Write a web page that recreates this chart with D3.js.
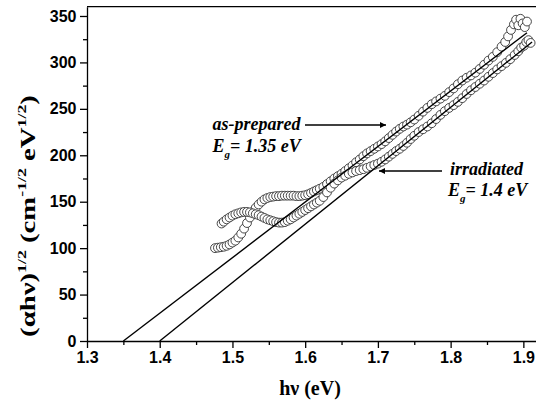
<!DOCTYPE html>
<html><head><meta charset="utf-8">
<script src="https://cdn.jsdelivr.net/npm/d3@7"></script>
<style>body{margin:0;background:#fff}svg{display:block}</style>
</head><body>
<svg id="c" width="536" height="406"></svg>
<script>
// ---- data ----
const asPreparedE = [1.476,1.480,1.484,1.488,1.492,1.496,1.500,1.504,1.508,1.512,1.516,1.520,1.524,1.528,1.532,1.536,1.540,1.544,1.548,1.552,1.556,1.560,1.564,1.568,1.572,1.576,1.580,1.584,1.588,1.592,1.596,1.600,1.604,1.608,1.612,1.616,1.620,1.625,1.630,1.635,1.640,1.645,1.650,1.655,1.660,1.665,1.670,1.675,1.680,1.685,1.690,1.695,1.700,1.705,1.710,1.715,1.720,1.725,1.730,1.735,1.740,1.745,1.750,1.756,1.762,1.768,1.774,1.780,1.786,1.792,1.798,1.804,1.810,1.816,1.822,1.828,1.834,1.840,1.846,1.852,1.858,1.864,1.870,1.875,1.879,1.883,1.887,1.890,1.893,1.896,1.899,1.902,1.905];
const asPreparedY = [100,100.5,101,101.5,102.5,104,106,108,111.5,115.5,121,127,133,139,143.5,147,150,152.5,154,155,155.5,156,156,156.5,156.5,156.5,156.5,156.5,156,156,156.5,157,158,159.5,161,162.5,164,166,169,172,175,177.5,180,183,186,189,192.5,195.5,199,202,204.5,207,209.5,212,215,218.5,222,225.5,228.5,231,233,235.5,238.5,242.5,247,251,255,258,261,264,268,272,276.5,280.5,283.5,286,289,293,297.5,302,306,311,317,322,328,335,341,346,340,347,342,338,344];
const irradiatedE = [1.485,1.488,1.492,1.496,1.500,1.504,1.508,1.512,1.516,1.520,1.524,1.528,1.532,1.536,1.540,1.544,1.548,1.552,1.556,1.560,1.564,1.568,1.572,1.576,1.580,1.584,1.588,1.592,1.596,1.600,1.604,1.608,1.612,1.616,1.620,1.625,1.630,1.635,1.640,1.645,1.650,1.655,1.660,1.665,1.670,1.675,1.680,1.685,1.690,1.695,1.700,1.705,1.710,1.715,1.720,1.725,1.730,1.735,1.740,1.745,1.750,1.756,1.762,1.768,1.774,1.780,1.786,1.792,1.798,1.804,1.810,1.816,1.822,1.828,1.834,1.840,1.846,1.852,1.858,1.864,1.870,1.876,1.882,1.888,1.893,1.897,1.901,1.904,1.907,1.910];
const irradiatedY = [126.5,128.5,131,133,135,136.5,137.5,138.5,139,139,138.5,137.5,136.5,135.5,134,132.5,131,130,129,128,127.5,127.5,128,129.5,131,133,135,137,139,141,143,145,147,149,151,155,160,165,169.5,173,176,178,180,181.5,183,184,185,186.5,188,189.5,191,193,195.5,198.5,201.5,204.5,207,210,213.5,217.5,221,225,228,231,234.5,239,243.5,247.5,251,254,257.5,261.5,266,270,273.5,277,280.5,284.5,288.5,292.5,296,299.5,303.5,308,312,316,318,322,324,321];
const fitAsPreparedE = [1.35, 1.905];
const fitAsPreparedY = [0, 332];
const fitIrradiatedE = [1.40, 1.912];
const fitIrradiatedY = [0, 322];
const xTicks = [1.3,1.4,1.5,1.6,1.7,1.8,1.9];
const xMinorTicks = [1.35,1.45,1.55,1.65,1.75,1.85];
const yTicks = [0,50,100,150,200,250,300,350];
const yMinorTicks = [25,75,125,175,225,275,325];

// ---- drawing ----
const svg = d3.select('#c');
const x = d3.scaleLinear().domain([1.3, 1.92]).range([87, 537.9]);
const y = d3.scaleLinear().domain([0, 360]).range([341, 6.7]);
const tickFont = '"Liberation Sans", Arial, sans-serif';
const serif = '"Liberation Serif", "Times New Roman", serif';

// frame top
svg.append('line').attr('x1', x.range()[0]).attr('x2', x.range()[1])
  .attr('y1', y(360)).attr('y2', y(360)).attr('stroke', '#000').attr('stroke-width', 1.3);

// data circles
function drawSeries(E, Y) {
  const pts = E.map((e, i) => [e, Y[i]]);
  svg.append('g').selectAll('circle').data(pts).join('circle')
    .attr('cx', d => x(d[0])).attr('cy', d => y(d[1])).attr('r', 4.4)
    .attr('fill', '#fff').attr('stroke', '#333').attr('stroke-width', 0.9);
}
drawSeries(asPreparedE, asPreparedY);
drawSeries(irradiatedE, irradiatedY);

// fit lines
const line = d3.line().x(d => x(d[0])).y(d => y(d[1]));
[[fitAsPreparedE, fitAsPreparedY], [fitIrradiatedE, fitIrradiatedY]].forEach(([E, Y]) => {
  svg.append('path').attr('d', line(E.map((e, i) => [e, Y[i]])))
    .attr('fill', 'none').attr('stroke', '#000').attr('stroke-width', 1.4);
});

// axes
function styleAxis(g) {
  g.selectAll('path,line').attr('stroke', '#000').attr('stroke-width', 1.3);
  g.selectAll('text').attr('font-family', tickFont).attr('font-weight', 'bold')
    .attr('font-size', 16).attr('fill', '#000');
}
svg.append('g').attr('transform', 'translate(0,341)')
  .call(d3.axisBottom(x).tickValues(xTicks).tickSize(7).tickSizeOuter(0).tickPadding(4).tickFormat(d3.format('.1f')))
  .call(styleAxis);
svg.append('g').attr('transform', 'translate(0,341)')
  .call(d3.axisBottom(x).tickValues(xMinorTicks).tickSize(4).tickSizeOuter(0).tickFormat(''))
  .call(g => g.select('.domain').remove()).call(styleAxis);
svg.append('g').attr('transform', 'translate(87,0)')
  .call(d3.axisLeft(y).tickValues(yTicks).tickSize(7).tickSizeOuter(0).tickPadding(3.5))
  .call(styleAxis);
svg.append('g').attr('transform', 'translate(87,0)')
  .call(d3.axisLeft(y).tickValues(yMinorTicks).tickSize(4).tickSizeOuter(0).tickFormat(''))
  .call(g => g.select('.domain').remove()).call(styleAxis);

// x label
const xl = svg.append('text').attr('x', 310).attr('y', 395).attr('text-anchor', 'middle')
  .attr('font-family', serif).attr('font-weight', 'bold').attr('font-size', 20);
xl.text('hν (eV)');

// y label (rotated, stretched to match)
const yl = svg.append('text').attr('font-family', serif).attr('font-weight', 'bold')
  .attr('font-size', 21).attr('text-anchor', 'middle');
yl.append('tspan').text('(αhν)');
yl.append('tspan').attr('font-size', 13).attr('dy', -9).text('1/2');
yl.append('tspan').attr('dy', 9).text(' (cm');
yl.append('tspan').attr('font-size', 13).attr('dy', -9).text('-1/2');
yl.append('tspan').attr('dy', 9).text(' eV');
yl.append('tspan').attr('font-size', 13).attr('dy', -9).text('1/2');
yl.append('tspan').attr('dy', 9).text(')');
const ylLen = yl.node().getComputedTextLength();
const sx = 242 / ylLen;
yl.attr('transform', `translate(35,216) rotate(-90) scale(${sx},1)`);

// annotations
function annot(xp, yp, txt) {
  return svg.append('text').attr('x', xp).attr('y', yp).attr('font-family', serif)
    .attr('font-weight', 'bold').attr('font-style', 'italic').attr('font-size', 18).text(txt);
}
function eg(xp, yp, val) {
  const t = svg.append('text').attr('x', xp).attr('y', yp).attr('font-family', serif)
    .attr('font-weight', 'bold').attr('font-style', 'italic').attr('font-size', 18);
  t.append('tspan').text('E');
  t.append('tspan').attr('font-size', 11).attr('dy', 6).text('g');
  t.append('tspan').attr('dy', -6).text('= ' + val + ' eV');
}
annot(212.5, 130, 'as-prepared');
eg(212.5, 152, '1.35');
annot(450, 175, 'irradiated');
eg(448, 196, '1.4');

svg.append('defs').append('marker').attr('id', 'ah').attr('viewBox', '0 0 10 10')
  .attr('refX', 10).attr('refY', 5).attr('markerWidth', 9).attr('markerHeight', 6)
  .attr('markerUnits', 'userSpaceOnUse').attr('orient', 'auto')
  .append('path').attr('d', 'M0,0 L10,5 L0,10 Z').attr('fill', '#000');
svg.append('line').attr('x1', 305).attr('y1', 125).attr('x2', 386).attr('y2', 125)
  .attr('stroke', '#000').attr('stroke-width', 1.5).attr('marker-end', 'url(#ah)');
svg.append('line').attr('x1', 442).attr('y1', 171).attr('x2', 379).attr('y2', 171)
  .attr('stroke', '#000').attr('stroke-width', 1.5).attr('marker-end', 'url(#ah)');
</script>
</body></html>
